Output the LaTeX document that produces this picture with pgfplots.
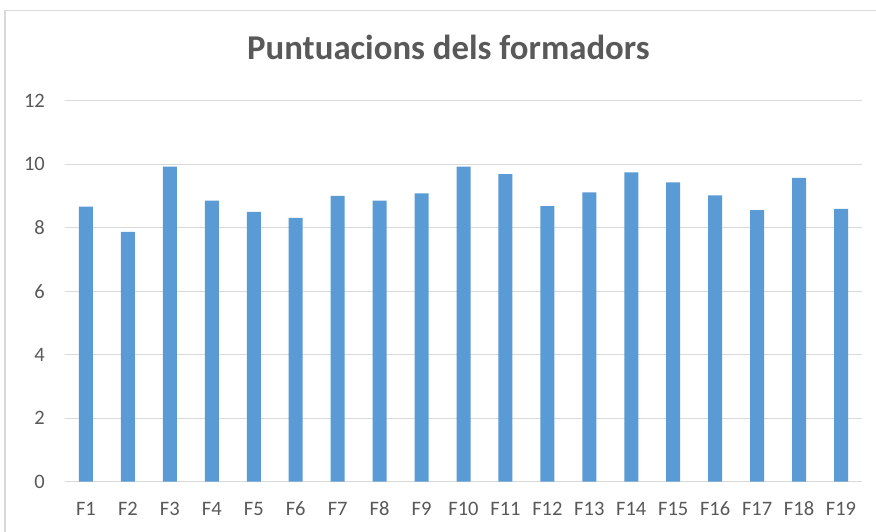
\documentclass[border=0pt]{standalone}
\usepackage{fontspec}
\setmainfont{Carlito}
\usepackage{pgfplots}
\pgfplotsset{compat=1.18}
\definecolor{barblue}{HTML}{5B9BD5}
\definecolor{txtgray}{HTML}{595959}
\definecolor{gridgray}{HTML}{D9D9D9}
\begin{document}
\begin{tikzpicture}[x=1pt,y=1pt]
\path[use as bounding box, fill=white] (0,0) rectangle (876,532);
\draw[gridgray, line width=1.5pt] (5,-5) -- (5,521.3) -- (880,521.3);
\node[text=txtgray, font=\fontsize{34.8}{40}\selectfont\bfseries, anchor=base] at (448.4,472) {Puntuacions dels formadors};
\begin{axis}[
  at={(65pt,50.3pt)}, anchor=south west,
  scale only axis, width=797pt, height=381pt,
  xmin=-0.5, xmax=18.5, ymin=0, ymax=12,
  ytick={0,2,...,12},
  xtick={0,...,18},
  xticklabels={F1,F2,F3,F4,F5,F6,F7,F8,F9,F10,F11,F12,F13,F14,F15,F16,F17,F18,F19},
  ymajorgrids, grid style={gridgray, line width=1.2pt},
  axis line style={draw=none},
  tick style={draw=none},
  /pgf/number format/assume math mode=true,
  ticklabel style={text=txtgray, font=\fontsize{20.5}{24}\selectfont},
  yticklabel style={anchor=east, inner sep=0pt, xshift=-20pt},
  xticklabel style={anchor=base, inner sep=0pt, yshift=-34.3pt},
]
\addplot[ybar, bar width=14pt, fill=barblue, draw=none] coordinates {
(0,8.66) (1,7.87) (2,9.92) (3,8.85) (4,8.50) (5,8.31) (6,9.00) (7,8.85) (8,9.08) (9,9.92)
(10,9.69) (11,8.68) (12,9.11) (13,9.74) (14,9.43) (15,9.02) (16,8.55) (17,9.57) (18,8.59)
};
\end{axis}
\end{tikzpicture}
\end{document}
